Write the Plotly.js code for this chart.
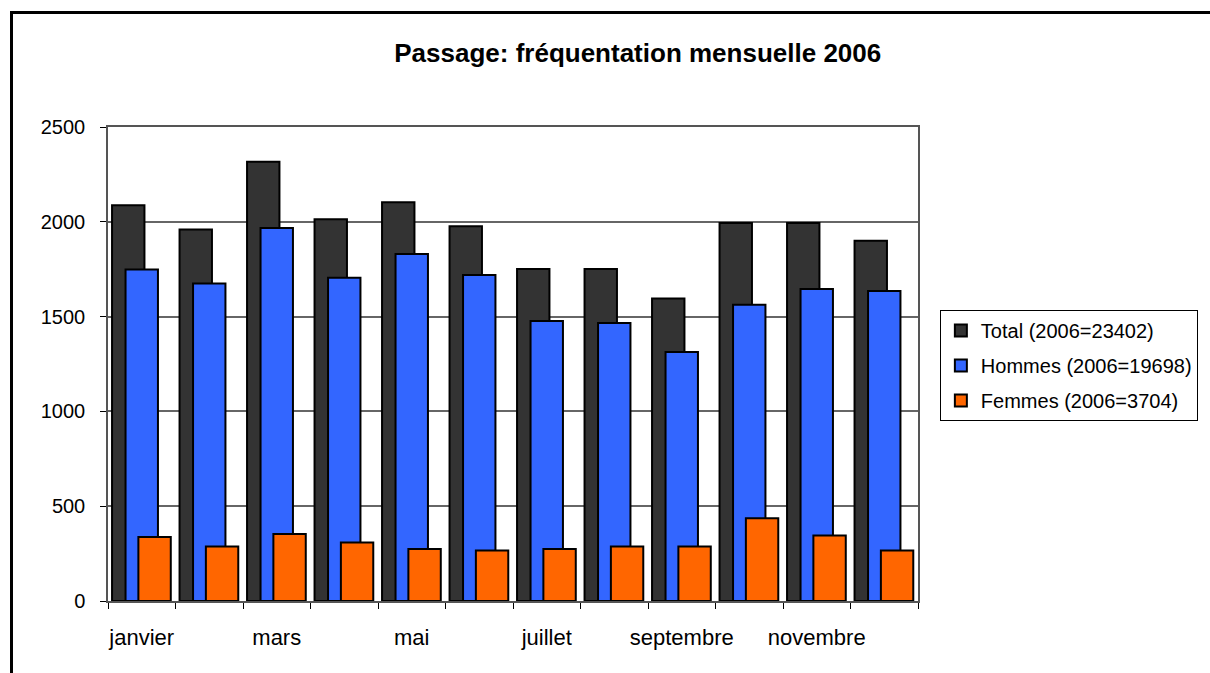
<!DOCTYPE html>
<html>
<head>
<meta charset="utf-8">
<script src="https://cdn.plot.ly/plotly-3.0.1.min.js"></script>
<style>
  html, body { margin: 0; padding: 0; background: #ffffff; overflow: hidden; }
  #frame { position: absolute; left: 10px; top: 11px; width: 1400px; height: 900px; border: 3px solid #000; box-sizing: border-box; }
  #chart { position: absolute; left: 0; top: 0; width: 1210px; height: 673px; }
</style>
</head>
<body>
<div id="frame"></div>
<div id="chart"></div>
<script>
const months = ["janvier","février","mars","avril","mai","juin","juillet","août","septembre","octobre","novembre","décembre"];
const monthLabels = ["janvier","","mars","","mai","","juillet","","septembre","","novembre",""];
const total   = [2087, 1960, 2317, 2013, 2103, 1976, 1751, 1751, 1595, 1994, 1994, 1900];
const hommes  = [1749, 1674, 1967, 1705, 1830, 1719, 1477, 1466, 1313, 1563, 1646, 1635];
const femmes  = [337, 287, 353, 308, 274, 267, 274, 287, 287, 436, 346, 267];
const seriesNames = ["Total (2006=23402)", "Hommes (2006=19698)", "Femmes (2006=3704)"];

const barW = 0.48;
const mk = (name, y, color, offset, grp) => ({
  type: "bar", name: name, x: months, y: y,
  width: barW, offset: offset, legendgroup: grp,
  marker: { color: color, line: { color: "#000000", width: 2 } },
  hoverinfo: "x+y"
});

const data = [
  mk(seriesNames[0], total,  "#333333", -0.44, "a"),
  mk(seriesNames[1], hommes, "#3366FF", -0.24, "b"),
  mk(seriesNames[2], femmes, "#FF6600", -0.05, "c")
];

const layout = {
  width: 1210, height: 673,
  margin: { l: 108, r: 292, t: 127, b: 72, pad: 0 },
  paper_bgcolor: "rgba(0,0,0,0)",
  plot_bgcolor: "#ffffff",
  barmode: "overlay",
  font: { family: "Liberation Sans, Arial, sans-serif", color: "#000000", size: 19 },
  title: {
    text: "<b>Passage: fréquentation mensuelle 2006</b>",
    font: { size: 26, family: "Liberation Sans, Arial, sans-serif", color: "#000" },
    xref: "paper", x: 0.654, xanchor: "center",
    yref: "container", y: 0.921, yanchor: "middle"
  },
  xaxis: {
    type: "category",
    tickmode: "array", tickvals: months, ticktext: monthLabels,
    tickson: "boundaries",
    tickangle: 0,
    ticks: "outside", ticklen: 6, tickcolor: "#000", tickwidth: 1,
    showline: true, linecolor: "#555555", linewidth: 1.5, mirror: true,
    showgrid: false, zeroline: false,
    tickfont: { size: 22 },
    ticklabelstandoff: 16,
    range: [-0.5, 11.5]
  },
  yaxis: {
    range: [0, 2500], dtick: 500, tick0: 0,
    ticks: "outside", ticklen: 6, tickcolor: "#000", tickwidth: 1,
    showline: true, linecolor: "#555555", linewidth: 1.5, mirror: true,
    showgrid: true, gridcolor: "#666666", gridwidth: 1.5,
    zeroline: false,
    tickfont: { size: 20 },
    ticklabelstandoff: 11
  },
  legend: {
    x: 1.027, xanchor: "left",
    y: 0.614, yanchor: "top",
    bordercolor: "#000000", borderwidth: 1,
    bgcolor: "#ffffff",
    font: { size: 20 },
    traceorder: "grouped",
    tracegroupgap: 6,
    itemwidth: 30
  },
  showlegend: true
};

Plotly.newPlot("chart", data, layout, { displayModeBar: false, staticPlot: false });
</script>
</body>
</html>
